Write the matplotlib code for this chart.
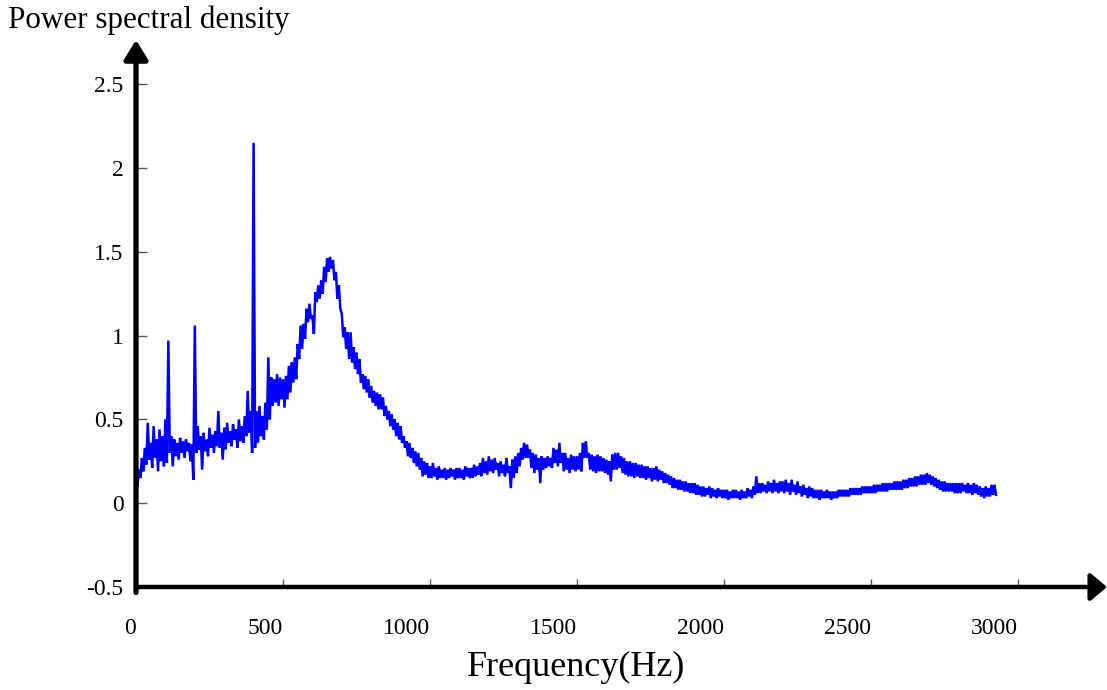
import numpy as np
import matplotlib
matplotlib.use("Agg")
import matplotlib.pyplot as plt

# ---- data ----
# The trace is a dense, jagged band: for every 10 Hz bin the upper and the
# lower edge of the band were read off the picture (upper at f, lower at f+5).
bin_hz = 10
psd_upper = [
    0.13, 0.20, 0.27, 0.33, 0.48, 0.36, 0.46, 0.38, 0.44, 0.40,   # 0-90
    0.50, 0.97, 0.40, 0.38, 0.36, 0.39, 0.37, 0.38, 0.36, 0.35,   # 100-190
    1.06, 0.46, 0.40, 0.42, 0.38, 0.45, 0.41, 0.43, 0.55, 0.42,   # 200-290
    0.45, 0.48, 0.43, 0.47, 0.44, 0.50, 0.46, 0.52, 0.67, 0.55,   # 300-390
    2.15, 0.55, 0.58, 0.52, 0.60, 0.87, 0.75, 0.74, 0.77, 0.75,   # 400-490
    0.74, 0.76, 0.82, 0.84, 0.87, 0.95, 1.06, 1.07, 1.16, 1.19,   # 500-590
    1.12, 1.26, 1.30, 1.33, 1.41, 1.46, 1.47, 1.45, 1.38, 1.30,   # 600-690
    1.13, 1.05, 1.02, 1.02, 0.93, 0.90, 0.86, 0.77, 0.76, 0.74,   # 700-790
    0.70, 0.67, 0.66, 0.65, 0.63, 0.58, 0.55, 0.53, 0.50, 0.48,   # 800-890
    0.46, 0.40, 0.37, 0.36, 0.33, 0.31, 0.30, 0.27, 0.25, 0.24,   # 900-990
    0.22, 0.24, 0.21, 0.22, 0.20, 0.21, 0.20, 0.21, 0.20, 0.21,   # 1000-1090
    0.21, 0.20, 0.22, 0.21, 0.21, 0.23, 0.22, 0.24, 0.27, 0.25,   # 1100-1190
    0.28, 0.26, 0.27, 0.24, 0.25, 0.23, 0.27, 0.22, 0.26, 0.28,   # 1200-1290
    0.30, 0.33, 0.36, 0.35, 0.32, 0.30, 0.29, 0.27, 0.28, 0.27,   # 1300-1390
    0.28, 0.27, 0.33, 0.32, 0.36, 0.30, 0.30, 0.27, 0.29, 0.28,   # 1400-1490
    0.28, 0.30, 0.36, 0.37, 0.30, 0.29, 0.28, 0.29, 0.28, 0.27,   # 1500-1590
    0.26, 0.25, 0.29, 0.30, 0.30, 0.28, 0.27, 0.25, 0.25, 0.24,   # 1600-1690
    0.24, 0.23, 0.23, 0.22, 0.22, 0.21, 0.21, 0.22, 0.20, 0.19,   # 1700-1790
    0.18, 0.17, 0.16, 0.15, 0.14, 0.14, 0.13, 0.13, 0.12, 0.12,   # 1800-1890
    0.12, 0.11, 0.10, 0.10, 0.09, 0.10, 0.09, 0.08, 0.09, 0.08,   # 1900-1990
    0.08, 0.08, 0.07, 0.08, 0.08, 0.07, 0.08, 0.07, 0.09, 0.08,   # 2000-2090
    0.10, 0.16, 0.12, 0.12, 0.11, 0.13, 0.12, 0.14, 0.12, 0.13,   # 2100-2190
    0.13, 0.14, 0.12, 0.14, 0.11, 0.13, 0.10, 0.11, 0.09, 0.10,   # 2200-2290
    0.09, 0.08, 0.08, 0.08, 0.07, 0.08, 0.07, 0.07, 0.07, 0.08,   # 2300-2390
    0.08, 0.08, 0.08, 0.09, 0.09, 0.09, 0.09, 0.10, 0.10, 0.10,   # 2400-2490
    0.10, 0.11, 0.11, 0.11, 0.12, 0.12, 0.12, 0.12, 0.13, 0.13,   # 2500-2590
    0.13, 0.14, 0.14, 0.15, 0.15, 0.16, 0.16, 0.17, 0.17, 0.18,   # 2600-2690
    0.17, 0.16, 0.15, 0.14, 0.13, 0.13, 0.12, 0.12, 0.12, 0.12,   # 2700-2790
    0.12, 0.12, 0.11, 0.12, 0.11, 0.12, 0.11, 0.10, 0.09, 0.10,   # 2800-2890
    0.09, 0.11, 0.11,                                             # 2900-2920
]
psd_lower = [
    0.10, 0.15, 0.19, 0.23, 0.26, 0.21, 0.27, 0.19, 0.25, 0.22,   # 5-95
    0.24, 0.30, 0.22, 0.28, 0.26, 0.30, 0.27, 0.31, 0.25, 0.14,   # 105-195
    0.30, 0.32, 0.20, 0.31, 0.28, 0.33, 0.30, 0.34, 0.33, 0.26,   # 205-295
    0.32, 0.36, 0.34, 0.38, 0.33, 0.37, 0.36, 0.40, 0.42, 0.30,   # 305-395
    0.33, 0.36, 0.40, 0.38, 0.44, 0.50, 0.58, 0.60, 0.58, 0.62,   # 405-495
    0.57, 0.62, 0.66, 0.72, 0.74, 0.86, 0.92, 0.98, 1.08, 1.10,   # 505-595
    1.01, 1.20, 1.22, 1.25, 1.32, 1.38, 1.40, 1.33, 1.22, 1.16,   # 605-695
    0.99, 0.92, 0.86, 0.84, 0.80, 0.77, 0.72, 0.68, 0.66, 0.63,   # 705-795
    0.60, 0.58, 0.56, 0.56, 0.52, 0.50, 0.46, 0.44, 0.40, 0.38,   # 805-895
    0.36, 0.33, 0.28, 0.27, 0.24, 0.22, 0.20, 0.16, 0.17, 0.15,   # 905-995
    0.15, 0.16, 0.14, 0.15, 0.15, 0.14, 0.15, 0.16, 0.14, 0.15,   # 1005-1095
    0.15, 0.14, 0.16, 0.15, 0.15, 0.16, 0.17, 0.16, 0.18, 0.17,   # 1105-1195
    0.19, 0.18, 0.20, 0.16, 0.18, 0.16, 0.18, 0.09, 0.15, 0.18,   # 1205-1295
    0.22, 0.26, 0.27, 0.27, 0.21, 0.18, 0.20, 0.12, 0.20, 0.21,   # 1305-1395
    0.22, 0.21, 0.24, 0.22, 0.24, 0.19, 0.20, 0.18, 0.20, 0.19,   # 1405-1495
    0.20, 0.19, 0.27, 0.27, 0.20, 0.19, 0.18, 0.19, 0.19, 0.18,   # 1505-1595
    0.17, 0.13, 0.20, 0.20, 0.21, 0.18, 0.17, 0.16, 0.16, 0.15,   # 1605-1695
    0.16, 0.15, 0.15, 0.14, 0.15, 0.13, 0.14, 0.13, 0.14, 0.12,   # 1705-1795
    0.12, 0.11, 0.09, 0.09, 0.08, 0.08, 0.07, 0.07, 0.06, 0.06,   # 1805-1895
    0.05, 0.05, 0.04, 0.04, 0.05, 0.03, 0.04, 0.03, 0.04, 0.03,   # 1905-1995
    0.03, 0.02, 0.03, 0.03, 0.03, 0.02, 0.03, 0.03, 0.04, 0.03,   # 2005-2095
    0.05, 0.06, 0.06, 0.07, 0.06, 0.07, 0.06, 0.07, 0.06, 0.07,   # 2105-2195
    0.06, 0.07, 0.05, 0.07, 0.05, 0.06, 0.04, 0.05, 0.03, 0.04,   # 2205-2295
    0.03, 0.03, 0.02, 0.03, 0.03, 0.03, 0.02, 0.03, 0.03, 0.04,   # 2305-2395
    0.04, 0.04, 0.04, 0.05, 0.05, 0.05, 0.05, 0.06, 0.06, 0.06,   # 2405-2495
    0.06, 0.06, 0.07, 0.07, 0.07, 0.07, 0.08, 0.08, 0.08, 0.08,   # 2505-2595
    0.08, 0.09, 0.09, 0.10, 0.10, 0.10, 0.11, 0.11, 0.11, 0.12,   # 2605-2695
    0.11, 0.10, 0.09, 0.08, 0.07, 0.07, 0.07, 0.07, 0.06, 0.06,   # 2705-2795
    0.06, 0.07, 0.06, 0.06, 0.05, 0.06, 0.05, 0.04, 0.03, 0.04,   # 2805-2895
    0.04, 0.05, 0.05,                                             # 2905-2925
]
assert len(psd_upper) == len(psd_lower)

x_ticks = [0, 500, 1000, 1500, 2000, 2500, 3000]
y_ticks = [-0.5, 0, 0.5, 1, 1.5, 2, 2.5]
y_tick_labels = ["-0.5", "0", "0.5", "1", "1.5", "2", "2.5"]
x_label = "Frequency(Hz)"
y_label = "Power spectral density"

# interleave the two edges into one trace
n = len(psd_upper)
freq = np.empty(2 * n)
psd = np.empty(2 * n)
freq[0::2] = np.arange(n) * bin_hz
freq[1::2] = np.arange(n) * bin_hz + bin_hz / 2
psd[0::2] = psd_upper
psd[1::2] = psd_lower

# ---- figure ----
plt.rcParams["font.family"] = ["Liberation Serif", "DejaVu Serif"]
W, H = 1107, 690
fig = plt.figure(figsize=(W / 100, H / 100), dpi=100)
left_px, right_px, top_px, bottom_px = 136, 1107, 40, 587
px_per_hz = 0.294
px_per_unit = 167.6
ax = fig.add_axes([left_px / W, 1 - bottom_px / H,
                   (right_px - left_px) / W, (bottom_px - top_px) / H])

ax.plot(freq, psd, color="#0000ff", lw=1.8, solid_joinstyle="miter")

ax.set_xlim(0, (right_px - left_px) / px_per_hz)
ax.set_ylim(-0.5, -0.5 + (bottom_px - top_px) / px_per_unit)

for s in ax.spines.values():
    s.set_visible(False)

# axis lines with arrow heads
ax.annotate("", xy=(1.0, 0.0), xytext=(0.0, 0.0), xycoords="axes fraction",
            textcoords="axes fraction",
            arrowprops=dict(arrowstyle="-|>,head_length=0.5,head_width=0.42",
                            lw=3.2, color="black", shrinkA=0, shrinkB=0,
                            mutation_scale=20), annotation_clip=False)
ax.annotate("", xy=(0.0, 1.0), xytext=(0.0, -0.01), xycoords="axes fraction",
            textcoords="axes fraction",
            arrowprops=dict(arrowstyle="-|>,head_length=0.58,head_width=0.36",
                            lw=3.8, color="black", shrinkA=0, shrinkB=0,
                            mutation_scale=20), annotation_clip=False)

ax.set_xticks(x_ticks)
ax.set_xticklabels([str(t) for t in x_ticks])
ax.set_yticks(y_ticks)
ax.set_yticklabels(y_tick_labels)
ax.tick_params(axis="x", direction="in", length=6, width=1, color="#555555",
               labelsize=17, pad=22)
ax.tick_params(axis="y", direction="in", length=8, width=1, color="#555555",
               labelsize=17, pad=9)
for lab in ax.get_xticklabels():
    lab.set_horizontalalignment("right")

fig.text(8 / W, 1 - 28 / H, y_label, fontsize=22.4, ha="left", va="baseline")
fig.text(576 / W, 1 - 667 / H, x_label, fontsize=26, ha="center", va="center")

fig.savefig("out.png", dpi=100)
